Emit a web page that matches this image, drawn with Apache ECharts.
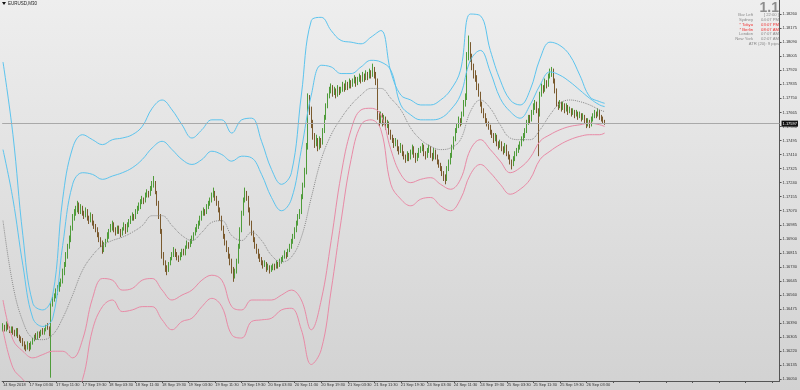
<!DOCTYPE html>
<html><head><meta charset="utf-8">
<script src="https://cdn.jsdelivr.net/npm/echarts@6/dist/echarts.min.js"></script>
<style>html,body{margin:0;padding:0;background:#dcdcdc}#c{width:800px;height:390px}</style>
</head><body><div id="c"></div>
<script>
const symbolTitle = 'EURUSD,M30';
const timeLabels = ['14 Sep 2018','17 Sep 03:30','17 Sep 11:30','17 Sep 19:30','18 Sep 03:30','18 Sep 11:30','18 Sep 19:30','19 Sep 03:30','19 Sep 11:30','19 Sep 19:30','20 Sep 03:30','20 Sep 11:30','20 Sep 19:30','21 Sep 03:30','21 Sep 11:30','21 Sep 19:30','24 Sep 03:30','24 Sep 11:30','24 Sep 19:30','25 Sep 03:30','25 Sep 11:30','25 Sep 19:30','26 Sep 03:30'];
const labelEvery = 16;
const viewBars = 469;
const priceTicks = [1.1605,1.16135,1.1622,1.16305,1.1639,1.16475,1.1656,1.16645,1.1673,1.16815,1.169,1.16985,1.1707,1.17155,1.1724,1.17325,1.1741,1.17495,1.1758,1.17665,1.1775,1.17835,1.1792,1.18005,1.1809,1.18175,1.1826];

// [open, close, low, high]
const ohlc = [
[1.1636,1.1637,1.1634,1.1639],[1.1637,1.1635,1.1634,1.1638],[1.1635,1.1638,1.1634,1.164],[1.1638,1.1636,1.1635,1.1639],[1.1636,1.1634,1.1633,1.1637],[1.1634,1.1636,1.1633,1.1637],
[1.1636,1.1634,1.1632,1.1637],[1.1634,1.1632,1.1631,1.1635],[1.1632,1.1635,1.1631,1.1636],[1.1635,1.1631,1.163,1.1636],[1.1631,1.163,1.1628,1.1632],[1.163,1.1628,1.1627,1.1631],
[1.1628,1.1627,1.1625,1.163],[1.1627,1.1625,1.1623,1.1628],[1.1625,1.1624,1.1622,1.1626],[1.1624,1.1626,1.1623,1.1628],[1.1626,1.1624,1.1622,1.1627],[1.1624,1.1627,1.1623,1.1628],
[1.1627,1.1629,1.1626,1.163],[1.1629,1.1631,1.1628,1.1632],[1.1631,1.163,1.1629,1.1633],[1.163,1.1633,1.1629,1.1634],[1.1633,1.1632,1.163,1.1634],[1.1632,1.1634,1.1631,1.1635],
[1.1634,1.1633,1.1632,1.1636],[1.1633,1.1635,1.1632,1.1636],[1.1635,1.1637,1.1634,1.1638],[1.1637,1.1636,1.1635,1.1639],[1.1636,1.1634,1.1631,1.1637],[1.1634,1.165,1.1606,1.1652],
[1.165,1.1653,1.1649,1.1655],[1.1653,1.1655,1.1652,1.1657],[1.1655,1.1658,1.1654,1.166],[1.1658,1.166,1.1656,1.1662],[1.166,1.1662,1.1658,1.1664],[1.1662,1.1664,1.1661,1.1666],
[1.1664,1.167,1.1663,1.1672],[1.167,1.1674,1.1668,1.1676],[1.1674,1.168,1.1673,1.1682],[1.168,1.1685,1.1678,1.1687],[1.1685,1.169,1.1684,1.1692],[1.169,1.1696,1.1688,1.1698],
[1.1696,1.1703,1.1695,1.1705],[1.1703,1.1706,1.1701,1.1708],[1.1706,1.1708,1.1704,1.171],[1.1708,1.171,1.1706,1.1713],[1.171,1.1707,1.1705,1.1712],[1.1707,1.1709,1.1705,1.1711],
[1.1709,1.1706,1.1704,1.171],[1.1706,1.1704,1.1702,1.1707],[1.1704,1.1707,1.1703,1.1709],[1.1707,1.1703,1.1701,1.1708],[1.1703,1.1701,1.1699,1.1704],[1.1701,1.1704,1.17,1.1706],
[1.1704,1.17,1.1698,1.1705],[1.17,1.1698,1.1696,1.1701],[1.1698,1.1696,1.1694,1.1699],[1.1696,1.1693,1.1691,1.1697],[1.1693,1.169,1.1688,1.1694],[1.169,1.1688,1.1685,1.1691],
[1.1688,1.1684,1.1681,1.1689],[1.1684,1.1686,1.1682,1.1688],[1.1686,1.1689,1.1685,1.169],[1.1689,1.1692,1.1688,1.1694],[1.1692,1.1695,1.169,1.1696],[1.1695,1.1697,1.1694,1.1699],
[1.1697,1.1699,1.1695,1.1701],[1.1699,1.1696,1.1694,1.17],[1.1696,1.1694,1.1692,1.1697],[1.1694,1.1697,1.1693,1.1698],[1.1697,1.1695,1.1693,1.1698],[1.1695,1.1693,1.1691,1.1696],
[1.1693,1.1696,1.1692,1.1697],[1.1696,1.1698,1.1695,1.17],[1.1698,1.1695,1.1693,1.1699],[1.1695,1.1699,1.1694,1.17],[1.1699,1.17,1.1697,1.1702],[1.17,1.1702,1.1699,1.1704],
[1.1702,1.1704,1.1701,1.1706],[1.1704,1.1703,1.1701,1.1705],[1.1703,1.1706,1.1702,1.1708],[1.1706,1.1708,1.1705,1.171],[1.1708,1.171,1.1707,1.1712],[1.171,1.1712,1.1708,1.1714],
[1.1712,1.1714,1.1711,1.1716],[1.1714,1.1713,1.1711,1.1715],[1.1713,1.1716,1.1712,1.1718],[1.1716,1.1718,1.1715,1.172],[1.1718,1.1717,1.1715,1.1719],[1.1717,1.172,1.1716,1.1722],
[1.172,1.1722,1.1719,1.1725],[1.1722,1.1724,1.1721,1.1728],[1.1724,1.1718,1.1717,1.1725],[1.1718,1.1712,1.171,1.1719],[1.1712,1.1704,1.1702,1.1713],[1.1704,1.1695,1.1693,1.1705],
[1.1695,1.168,1.1678,1.1696],[1.168,1.1676,1.1674,1.1682],[1.1676,1.1673,1.167,1.1677],[1.1673,1.1671,1.1668,1.1674],[1.1671,1.1675,1.167,1.1676],[1.1675,1.1678,1.1674,1.1679],
[1.1678,1.168,1.1677,1.1682],[1.168,1.1683,1.1679,1.1685],[1.1683,1.1681,1.1679,1.1684],[1.1681,1.1679,1.1677,1.1682],[1.1679,1.1678,1.1676,1.168],[1.1678,1.168,1.1677,1.1682],
[1.168,1.1683,1.1679,1.1684],[1.1683,1.1681,1.168,1.1684],[1.1681,1.1685,1.168,1.1686],[1.1685,1.1687,1.1684,1.1689],[1.1687,1.1686,1.1684,1.1688],[1.1686,1.1688,1.1685,1.169],
[1.1688,1.169,1.1687,1.1692],[1.169,1.1693,1.1689,1.1694],[1.1693,1.1695,1.1692,1.1697],[1.1695,1.1697,1.1694,1.1699],[1.1697,1.1699,1.1696,1.1701],[1.1699,1.1702,1.1698,1.1704],
[1.1702,1.1705,1.1701,1.1707],[1.1705,1.1707,1.1704,1.1709],[1.1707,1.1706,1.1704,1.1708],[1.1706,1.1709,1.1705,1.1711],[1.1709,1.1711,1.1708,1.1713],[1.1711,1.1713,1.171,1.1715],
[1.1713,1.1716,1.1712,1.1718],[1.1716,1.1718,1.1715,1.1721],[1.1718,1.1715,1.1713,1.1719],[1.1715,1.1712,1.171,1.1716],[1.1712,1.1708,1.1706,1.1713],[1.1708,1.1703,1.1701,1.1709],
[1.1703,1.1697,1.1695,1.1704],[1.1697,1.1692,1.169,1.1698],[1.1692,1.1688,1.1686,1.1693],[1.1688,1.1684,1.1682,1.1689],[1.1684,1.168,1.1678,1.1685],[1.168,1.1677,1.1674,1.1681],
[1.1677,1.1672,1.1669,1.1678],[1.1672,1.1668,1.1664,1.1673],[1.1668,1.167,1.1666,1.1672],[1.167,1.1676,1.1669,1.1678],[1.1676,1.1685,1.1675,1.1687],[1.1685,1.1695,1.1684,1.1697],
[1.1695,1.1705,1.1694,1.1707],[1.1705,1.1713,1.1704,1.1715],[1.1713,1.1718,1.1712,1.1721],[1.1718,1.1715,1.1713,1.1719],[1.1715,1.1708,1.1706,1.1716],[1.1708,1.17,1.1698,1.1709],
[1.17,1.1694,1.1692,1.1701],[1.1694,1.169,1.1688,1.1695],[1.169,1.1686,1.1684,1.1691],[1.1686,1.1683,1.1681,1.1687],[1.1683,1.168,1.1678,1.1684],[1.168,1.1678,1.1676,1.1681],
[1.1678,1.1676,1.1674,1.1679],[1.1676,1.1674,1.1672,1.1677],[1.1674,1.1675,1.1673,1.1677],[1.1675,1.1672,1.167,1.1676],[1.1672,1.1673,1.1671,1.1675],[1.1673,1.1671,1.1669,1.1674],
[1.1671,1.1672,1.167,1.1674],[1.1672,1.1674,1.1671,1.1675],[1.1674,1.1673,1.1671,1.1675],[1.1673,1.1675,1.1672,1.1677],[1.1675,1.1674,1.1672,1.1676],[1.1674,1.1676,1.1673,1.1678],
[1.1676,1.1677,1.1675,1.1679],[1.1677,1.1679,1.1676,1.168],[1.1679,1.1681,1.1678,1.1683],[1.1681,1.168,1.1678,1.1682],[1.168,1.1683,1.1679,1.1684],[1.1683,1.1685,1.1682,1.1687],
[1.1685,1.1688,1.1684,1.169],[1.1688,1.1691,1.1687,1.1693],[1.1691,1.1695,1.169,1.1697],[1.1695,1.1699,1.1694,1.1701],[1.1699,1.1703,1.1698,1.1705],[1.1703,1.1706,1.1702,1.1708],
[1.1706,1.1715,1.1705,1.1717],[1.1715,1.1722,1.1714,1.1724],[1.1722,1.173,1.1721,1.1733],[1.173,1.1745,1.1729,1.1748],[1.1745,1.1775,1.1744,1.1778],[1.1775,1.1768,1.1765,1.1777],
[1.1768,1.176,1.1757,1.177],[1.176,1.1752,1.175,1.1762],[1.1752,1.1748,1.1745,1.1754],[1.1748,1.175,1.1746,1.1753],[1.175,1.1745,1.1743,1.1751],[1.1745,1.175,1.1744,1.1752],
[1.175,1.1748,1.1745,1.1751],[1.1748,1.1755,1.1747,1.1757],[1.1755,1.1763,1.1754,1.1765],[1.1763,1.177,1.1762,1.1772],[1.177,1.1776,1.1769,1.1778],[1.1776,1.178,1.1775,1.1782],
[1.178,1.1782,1.1778,1.1784],[1.1782,1.1778,1.1776,1.1783],[1.1778,1.178,1.1777,1.1782],[1.178,1.1777,1.1775,1.1781],[1.1777,1.1781,1.1776,1.1783],[1.1781,1.1779,1.1777,1.1782],
[1.1779,1.178,1.1778,1.1782],[1.178,1.1783,1.1779,1.1785],[1.1783,1.1781,1.1779,1.1784],[1.1781,1.1784,1.178,1.1786],[1.1784,1.1782,1.178,1.1785],[1.1782,1.1785,1.1781,1.1787],
[1.1785,1.1783,1.1781,1.1786],[1.1783,1.1785,1.1782,1.1787],[1.1785,1.1787,1.1784,1.1789],[1.1787,1.1784,1.1782,1.1788],[1.1784,1.1786,1.1783,1.1788],[1.1786,1.1788,1.1785,1.179],
[1.1788,1.1786,1.1784,1.1789],[1.1786,1.1789,1.1785,1.1791],[1.1789,1.1787,1.1785,1.179],[1.1787,1.179,1.1786,1.1792],[1.179,1.1788,1.1786,1.1791],[1.1788,1.1791,1.1787,1.1793],
[1.1791,1.1789,1.1787,1.1792],[1.1789,1.1792,1.1788,1.1796],[1.1792,1.179,1.1787,1.1794],[1.179,1.1786,1.1783,1.1791],[1.1786,1.1765,1.1762,1.1787],[1.1765,1.1762,1.1758,1.1767],
[1.1762,1.1765,1.176,1.1767],[1.1765,1.176,1.1758,1.1766],[1.176,1.1763,1.1759,1.1765],[1.1763,1.1758,1.1756,1.1764],[1.1758,1.176,1.1757,1.1762],[1.176,1.1755,1.1753,1.1761],
[1.1755,1.1752,1.175,1.1756],[1.1752,1.175,1.1748,1.1753],[1.175,1.1747,1.1745,1.1751],[1.1747,1.1749,1.1746,1.1751],[1.1749,1.1745,1.1743,1.175],[1.1745,1.1743,1.1741,1.1746],
[1.1743,1.1746,1.1742,1.1748],[1.1746,1.1742,1.174,1.1747],[1.1742,1.174,1.1738,1.1743],[1.174,1.1738,1.1736,1.1741],[1.1738,1.1741,1.1737,1.1743],[1.1741,1.1739,1.1737,1.1742],
[1.1739,1.1742,1.1738,1.1744],[1.1742,1.1745,1.1741,1.1747],[1.1745,1.1741,1.1739,1.1746],[1.1741,1.1738,1.1736,1.1742],[1.1738,1.174,1.1737,1.1742],[1.174,1.1743,1.1739,1.1745],
[1.1743,1.1744,1.1742,1.1746],[1.1744,1.1746,1.1743,1.1748],[1.1746,1.1742,1.174,1.1747],[1.1742,1.174,1.1738,1.1743],[1.174,1.1743,1.1739,1.1745],[1.1743,1.1745,1.1742,1.1747],
[1.1745,1.1741,1.1739,1.1746],[1.1741,1.1739,1.1737,1.1742],[1.1739,1.1743,1.1738,1.1745],[1.1743,1.174,1.1738,1.1744],[1.174,1.1737,1.1735,1.1741],[1.1737,1.1735,1.1733,1.1738],
[1.1735,1.1733,1.1731,1.1736],[1.1733,1.173,1.1728,1.1734],[1.173,1.1728,1.1725,1.1731],[1.1728,1.1726,1.1723,1.1729],[1.1726,1.1732,1.1725,1.1734],[1.1732,1.1736,1.1731,1.1738],
[1.1736,1.174,1.1735,1.1742],[1.174,1.1745,1.1739,1.1747],[1.1745,1.175,1.1744,1.1752],[1.175,1.1755,1.1749,1.1757],[1.1755,1.1758,1.1754,1.176],[1.1758,1.1762,1.1757,1.1764],
[1.1762,1.176,1.1758,1.1763],[1.176,1.1765,1.1759,1.1767],[1.1765,1.1772,1.1764,1.1774],[1.1772,1.1775,1.177,1.1778],[1.1775,1.18,1.1774,1.1803],[1.18,1.1808,1.1798,1.1813],
[1.1808,1.18,1.1797,1.1809],[1.18,1.1795,1.1792,1.1802],[1.1795,1.179,1.1787,1.1796],[1.179,1.1788,1.1785,1.1792],[1.1788,1.1782,1.178,1.1789],[1.1782,1.1778,1.1776,1.1784],
[1.1778,1.1772,1.177,1.1779],[1.1772,1.1768,1.1766,1.1773],[1.1768,1.1765,1.1763,1.1769],[1.1765,1.1762,1.176,1.1766],[1.1762,1.176,1.1758,1.1763],[1.176,1.1758,1.1756,1.1761],
[1.1758,1.1755,1.1753,1.1759],[1.1755,1.1753,1.1751,1.1756],[1.1753,1.175,1.1748,1.1754],[1.175,1.1752,1.1749,1.1754],[1.1752,1.1748,1.1746,1.1753],[1.1748,1.1746,1.1744,1.1749],
[1.1746,1.1748,1.1745,1.175],[1.1748,1.1745,1.1743,1.1749],[1.1745,1.1743,1.1741,1.1746],[1.1743,1.1746,1.1742,1.1748],[1.1746,1.1742,1.174,1.1747],[1.1742,1.174,1.1738,1.1743],
[1.174,1.1737,1.1735,1.1741],[1.1737,1.1735,1.1732,1.1738],[1.1735,1.1738,1.1734,1.174],[1.1738,1.1741,1.1737,1.1743],[1.1741,1.1743,1.174,1.1745],[1.1743,1.1745,1.1742,1.1747],
[1.1745,1.1747,1.1744,1.1749],[1.1747,1.175,1.1746,1.1752],[1.175,1.1752,1.1749,1.1754],[1.1752,1.1755,1.1751,1.1757],[1.1755,1.176,1.1754,1.1762],[1.176,1.1763,1.1759,1.1765],
[1.1763,1.1762,1.176,1.1765],[1.1762,1.1766,1.1761,1.1768],[1.1766,1.177,1.1765,1.1772],[1.177,1.1772,1.1768,1.1774],[1.1772,1.1768,1.1766,1.1773],[1.1768,1.1765,1.174,1.1769],
[1.1765,1.1777,1.1764,1.1779],[1.1777,1.1782,1.1776,1.1784],[1.1782,1.178,1.1778,1.1783],[1.178,1.1785,1.1779,1.1787],[1.1785,1.1783,1.1781,1.1786],[1.1783,1.1788,1.1782,1.179],
[1.1788,1.179,1.1787,1.1793],[1.179,1.1792,1.1788,1.1794],[1.1792,1.1786,1.1784,1.1793],[1.1786,1.178,1.1778,1.1787],[1.178,1.1772,1.177,1.1781],[1.1772,1.177,1.1768,1.1773],
[1.177,1.1772,1.1769,1.1774],[1.1772,1.1769,1.1767,1.1773],[1.1769,1.1771,1.1768,1.1773],[1.1771,1.1768,1.1766,1.1772],[1.1768,1.177,1.1767,1.1772],[1.177,1.1767,1.1765,1.1771],
[1.1767,1.1768,1.1766,1.177],[1.1768,1.1766,1.1764,1.1769],[1.1766,1.1767,1.1765,1.1769],[1.1767,1.1765,1.1763,1.1768],[1.1765,1.1766,1.1764,1.1768],[1.1766,1.1764,1.1762,1.1767],
[1.1764,1.1765,1.1763,1.1767],[1.1765,1.1763,1.1761,1.1766],[1.1763,1.1764,1.1762,1.1766],[1.1764,1.1762,1.176,1.1765],[1.1762,1.176,1.1757,1.1763],[1.176,1.1761,1.1758,1.1763],
[1.1761,1.1759,1.1757,1.1762],[1.1759,1.1762,1.1758,1.1764],[1.1762,1.1764,1.1761,1.1766],[1.1764,1.1766,1.1763,1.1768],[1.1766,1.1765,1.1763,1.1767],[1.1765,1.1767,1.1764,1.1769],
[1.1767,1.1764,1.1762,1.1768],[1.1764,1.1763,1.1761,1.1765],[1.1763,1.1761,1.176,1.1764],[1.1761,1.17597,1.1759,1.1762]
];

const bandBars = [0,6,12,18,24,30,36,42,48,54,60,66,72,78,84,90,96,102,108,114,120,126,132,138,144,150,156,162,168,174,180,186,192,198,204,210,216,222,228,234,240,246,252,258,264,270,276,282,288,294,300,306,312,318,324,330,336,342,348,354,360,363];
const upperOuter = [1.1797,1.1753,1.1692,1.1651,1.1647,1.1656,1.1714,1.1745,1.1753,1.175,
1.1747,1.175,1.1751,1.1753,1.1758,1.1769,1.1774,1.1768,1.1759,1.1751,
1.1756,1.1762,1.1762,1.1754,1.1762,1.1763,1.1749,1.1732,1.1723,1.173,
1.1777,1.1822,1.1824,1.1816,1.181,1.1809,1.1808,1.1812,1.1816,1.1791,
1.1777,1.1774,1.1771,1.1771,1.1774,1.178,1.1792,1.1826,1.1825,1.1804,
1.1786,1.1774,1.1771,1.178,1.1799,1.1809,1.1807,1.1801,1.1789,1.1776,
1.1773,1.1772];
const upperInner = [1.1744,1.1714,1.1674,1.1642,1.1637,1.1642,1.1686,1.1723,1.173,1.1729,
1.1726,1.1728,1.173,1.1733,1.1738,1.1745,1.1749,1.1744,1.1738,1.1735,
1.1738,1.1743,1.1741,1.1737,1.174,1.1739,1.1729,1.1715,1.1707,1.1714,
1.1744,1.1777,1.1795,1.1794,1.179,1.179,1.1794,1.1798,1.1797,1.1792,
1.1771,1.1765,1.1762,1.1762,1.1763,1.1768,1.1777,1.1798,1.1804,1.1791,
1.1775,1.1767,1.1763,1.1771,1.1783,1.1791,1.1789,1.1785,1.178,1.1775,
1.1771,1.177];
const middleMA = [1.1701,1.1662,1.164,1.163,1.1629,1.1632,1.1642,1.1656,1.1671,1.168,
1.1686,1.1689,1.1691,1.1694,1.1698,1.1704,1.1704,1.1698,1.1692,1.1689,
1.1694,1.17,1.1701,1.1692,1.1689,1.1694,1.1689,1.168,1.1676,1.1679,
1.1691,1.1715,1.1738,1.1753,1.1763,1.1771,1.1777,1.1781,1.1781,1.1775,
1.1768,1.1757,1.175,1.1746,1.1744,1.1745,1.175,1.1767,1.1774,1.1769,
1.1759,1.1751,1.175,1.175,1.1756,1.1765,1.1772,1.1774,1.1773,1.1771,
1.1768,1.1767];
const lowerInner = [1.1653,1.1629,1.1622,1.1618,1.162,1.1622,1.1622,1.1618,1.1629,1.1654,
1.1666,1.1665,1.1659,1.166,1.1665,1.1666,1.1659,1.1653,1.1656,1.1659,
1.1665,1.1668,1.1665,1.1649,1.1647,1.1653,1.1653,1.1653,1.1656,1.1659,
1.1653,1.1635,1.1653,1.1689,1.1729,1.1756,1.1768,1.1769,1.1765,1.1744,
1.1729,1.1724,1.1726,1.1727,1.1723,1.172,1.1726,1.1744,1.175,1.1744,
1.1737,1.173,1.1733,1.1739,1.1749,1.1753,1.1756,1.1758,1.1759,1.176,
1.1759,1.1758];
const lowerOuter = [1.1635,1.1612,1.1605,1.1599,1.1597,1.1599,1.1597,1.1596,1.1605,1.1635,
1.1649,1.1653,1.1646,1.1647,1.1649,1.1649,1.1641,1.1635,1.164,1.1642,
1.1649,1.1654,1.1649,1.1632,1.163,1.164,1.1641,1.1642,1.1647,1.1648,
1.1635,1.1614,1.1623,1.1659,1.1701,1.1738,1.1759,1.1762,1.1756,1.1723,
1.1714,1.171,1.1714,1.1715,1.171,1.1707,1.1714,1.1729,1.1735,1.173,
1.1723,1.1717,1.172,1.1726,1.1738,1.1743,1.1747,1.175,1.1752,1.1753,
1.1753,1.1754];

const bigNumber = '1.1';
const panelLabels = ['Bar Left','Sydney','* Tokyo','* Berlin','London','New York'];
const panelValues = ['[ 22:00 ]','04:07 PM','03:07 PM','08:07 AM','07:07 AM','02:07 AM'];
const panelRed = [false,false,true,true,false,false];
const atrText = 'ATR (20): 9 pips';

const FONT = 'Arial, "Liberation Sans", sans-serif';
const chart = echarts.init(document.getElementById('c'), null, {renderer: 'canvas'});
const cats = Array.from({length: viewBars}, (_, i) => i);
const pair = arr => arr.map((v, k) => [bandBars[k], v]);
const lastClose = ohlc[ohlc.length - 1][1];

function bandLine(name, arr, color, type) {
  return {
    name, type: 'line', data: pair(arr), smooth: 0.4, symbol: 'none', silent: true, z: 3,
    lineStyle: {color, width: 1, type: type || 'solid'}
  };
}

const graphics = [
  {type: 'polygon', shape: {points: [[2, 2], [6, 2], [4, 5]]}, style: {fill: '#111'}},
  {type: 'text', x: 8, y: 1.5, style: {text: symbolTitle, font: '4.5px ' + FONT, fill: '#222'}},
  {type: 'text', x: 779, y: 1, style: {text: bigNumber, font: 'bold 14px ' + FONT, fill: '#8d8d8d', textAlign: 'right'}}
];
panelLabels.forEach((t, i) => {
  const y = 13 + i * 4.8;
  const col = panelRed[i] ? '#f03030' : '#8a8a8a';
  graphics.push({type: 'text', x: 753, y, style: {text: t, font: '4.2px ' + FONT, fill: col, textAlign: 'right'}});
  graphics.push({type: 'text', x: 779, y, style: {text: panelValues[i], font: '4.2px ' + FONT, fill: col, textAlign: 'right'}});
});
graphics.push({type: 'text', x: 779, y: 13 + 6 * 4.8, style: {text: atrText, font: '4.2px ' + FONT, fill: '#8a8a8a', textAlign: 'right'}});

const middleSeries = bandLine('middle', middleMA, '#8a8a8a', 'dotted');
middleSeries.markLine = {
  silent: true, symbol: ['none', 'none'], animation: false, precision: 5,
  lineStyle: {color: '#a9a9a9', type: 'solid', width: 1},
  label: {position: 'end', formatter: lastClose.toFixed(5), backgroundColor: '#111', color: '#fff', fontSize: 4, padding: [1, 1, 1, 1], distance: 2, fontFamily: FONT},
  data: [{yAxis: lastClose}]
};

const option = {
  animation: false,
  backgroundColor: new echarts.graphic.LinearGradient(0, 0, 0, 1, [
    {offset: 0, color: '#eeeeee'}, {offset: 1, color: '#d2d2d2'}
  ]),
  grid: {left: 0, right: 18, top: 0, bottom: 9},
  xAxis: {
    type: 'category', data: cats, boundaryGap: true,
    axisLine: {show: true, lineStyle: {color: '#555', width: 1}},
    axisTick: {show: true, interval: labelEvery - 1, alignWithLabel: true, length: 2, lineStyle: {color: '#555'}},
    axisLabel: {
      interval: labelEvery - 1, align: 'left', margin: 2, fontSize: 4, color: '#333', fontFamily: FONT,
      formatter: (v, i) => timeLabels[i / labelEvery] || ''
    },
    splitLine: {show: false}
  },
  yAxis: {
    type: 'value', position: 'right', min: 1.1604, max: 1.18345, scale: true,
    axisLine: {show: true, lineStyle: {color: '#555', width: 1}},
    axisTick: {show: true, customValues: priceTicks, length: 2, lineStyle: {color: '#555'}},
    axisLabel: {customValues: priceTicks, formatter: v => v.toFixed(5), fontSize: 4, color: '#333', margin: 3, fontFamily: FONT},
    splitLine: {show: false}
  },
  series: [
    {
      type: 'candlestick', data: ohlc, barWidth: 0.6, z: 2,
      itemStyle: {color: '#48a032', color0: '#7a5a2e', borderColor: '#4f9c3a', borderColor0: '#7a5a2e', borderWidth: 1}
    },
    bandLine('upperOuter', upperOuter, '#5cc4ee'),
    bandLine('upperInner', upperInner, '#5cc4ee'),
    middleSeries,
    bandLine('lowerInner', lowerInner, '#e88aa6'),
    bandLine('lowerOuter', lowerOuter, '#e88aa6')
  ],
  graphic: graphics
};
chart.setOption(option);
</script>
</body></html>
